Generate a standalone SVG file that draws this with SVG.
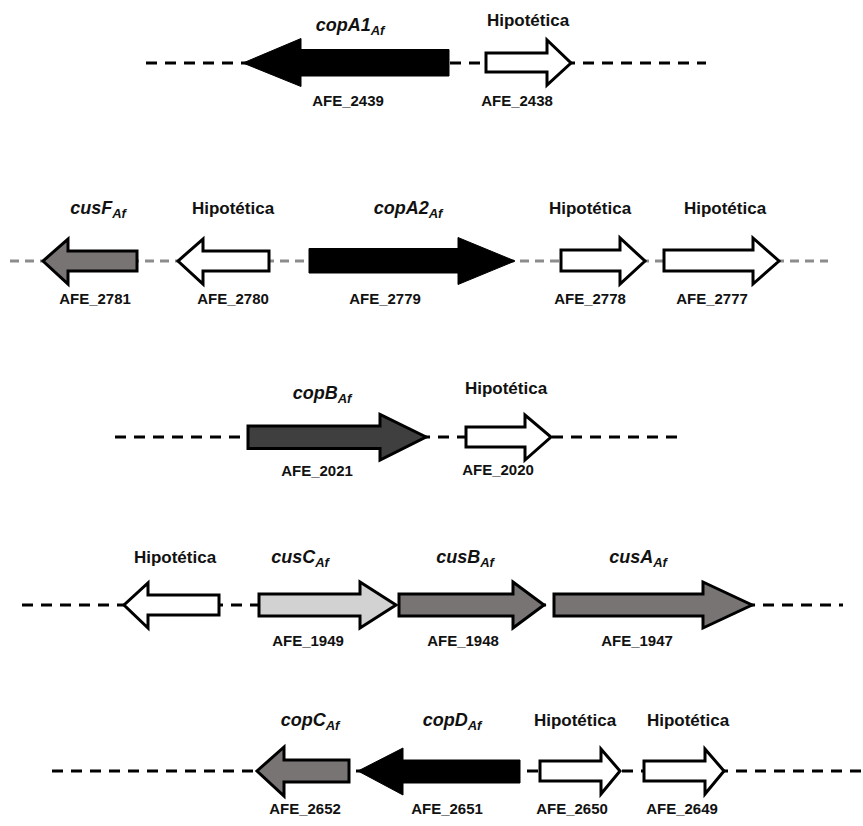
<svg xmlns="http://www.w3.org/2000/svg" width="863" height="826" viewBox="0 0 863 826">
<style>
.bb{stroke:#000;stroke-width:3;stroke-dasharray:11 8;fill:none}
.gb{stroke:#8c8c8c;stroke-width:3;stroke-dasharray:9 6;fill:none}
.ar{stroke:#000;stroke-width:3;stroke-linejoin:miter}
.w{fill:#fff}
.k{fill:#000;stroke:#000;stroke-width:1}
.g{fill:#787474}
.d{fill:#3f3f3f}
.l{fill:#d2d2d2}
text{font-family:"Liberation Sans",Arial,sans-serif;font-weight:bold;fill:#111;text-anchor:middle}
.n{font-size:18px;font-style:italic}
.s{font-size:13px}
.h{font-size:17px}
.a{font-size:15px}
</style>
<rect width="863" height="826" fill="#fff"/>
<g id="connectors">
<line class="bb" x1="146" y1="63" x2="706" y2="63"/>
<line class="gb" x1="10" y1="261" x2="828" y2="261"/>
<line class="bb" x1="115" y1="437" x2="685" y2="437"/>
<line class="bb" x1="22" y1="605" x2="843" y2="605"/>
<line class="bb" x1="52" y1="771" x2="863" y2="771"/>
</g>
<!-- Row 1 -->
<g id="copA1">
<polygon class="k" points="449,49.5 301,49.5 301,38.5 243,63 301,86.5 301,76 449,76"/>
<text class="n" x="350" y="31">copA1<tspan class="s" dy="4">Af</tspan></text>
<text class="a" x="348" y="106">AFE_2439</text>
</g>
<g id="AFE_2438">
<polygon class="ar w" points="486,53 547,53 547,40 571,63 547,85 547,72 486,72"/>
<text class="h" x="528" y="26">Hipotética</text>
<text class="a" x="517" y="106">AFE_2438</text>
</g>
<!-- Row 2 -->
<g id="cusF">
<polygon class="ar g" points="137,251 68,251 68,239 43,261 68,284 68,271 137,271"/>
<text class="n" x="98" y="214">cusF<tspan class="s" dy="4">Af</tspan></text>
<text class="a" x="95" y="304">AFE_2781</text>
</g>
<g id="AFE_2780">
<polygon class="ar w" points="269,251 203,251 203,239 178,261 203,284 203,271 269,271"/>
<text class="h" x="233" y="214">Hipotética</text>
<text class="a" x="233" y="304">AFE_2780</text>
</g>
<g id="copA2">
<polygon class="k" points="309,248.5 458,248.5 458,237.5 515,261 458,284.5 458,273 309,273"/>
<text class="n" x="408" y="214">copA2<tspan class="s" dy="4">Af</tspan></text>
<text class="a" x="385" y="304">AFE_2779</text>
</g>
<g id="AFE_2778">
<polygon class="ar w" points="561,250 620,250 620,238 645,261 620,284 620,271 561,271"/>
<text class="h" x="590" y="214">Hipotética</text>
<text class="a" x="590" y="304">AFE_2778</text>
</g>
<g id="AFE_2777">
<polygon class="ar w" points="664,250 753,250 753,238 779,261 753,284 753,271 664,271"/>
<text class="h" x="725" y="214">Hipotética</text>
<text class="a" x="712" y="304">AFE_2777</text>
</g>
<!-- Row 3 -->
<g id="copB">
<polygon class="ar d" points="248,426 380,426 380,414.5 426,437 380,460 380,448.5 248,448.5"/>
<text class="n" x="322" y="399">copB<tspan class="s" dy="4">Af</tspan></text>
<text class="a" x="317" y="476">AFE_2021</text>
</g>
<g id="AFE_2020">
<polygon class="ar w" points="466,427 525,427 525,415 551,437 525,460 525,447 466,447"/>
<text class="h" x="506" y="394">Hipotética</text>
<text class="a" x="498" y="475">AFE_2020</text>
</g>
<!-- Row 4 -->
<g id="hyp4">
<polygon class="ar w" points="219,595 148,595 148,583 124,605 148,628 148,615 219,615"/>
<text class="h" x="175" y="563">Hipotética</text>
</g>
<g id="cusC">
<polygon class="ar l" points="259,594 360,594 360,582 396,605 360,628 360,616 259,616"/>
<text class="n" x="300" y="563">cusC<tspan class="s" dy="4">Af</tspan></text>
<text class="a" x="308" y="646">AFE_1949</text>
</g>
<g id="cusB">
<polygon class="ar g" points="399,594 513,594 513,582 544,605 513,628 513,616 399,616"/>
<text class="n" x="465" y="563">cusB<tspan class="s" dy="4">Af</tspan></text>
<text class="a" x="463" y="646">AFE_1948</text>
</g>
<g id="cusA">
<polygon class="ar g" points="554,594 703,594 703,582 752,605 703,628 703,616 554,616"/>
<text class="n" x="638" y="563">cusA<tspan class="s" dy="4">Af</tspan></text>
<text class="a" x="637" y="646">AFE_1947</text>
</g>
<!-- Row 5 -->
<g id="copC">
<polygon class="ar g" points="349,760 284,760 284,747 257,771 284,796 284,782 349,782"/>
<text class="n" x="310" y="726">copC<tspan class="s" dy="4">Af</tspan></text>
<text class="a" x="305" y="814">AFE_2652</text>
</g>
<g id="copD">
<polygon class="k" points="520,760 403,760 403,748 358,771 403,795 403,783 520,783"/>
<text class="n" x="452" y="726">copD<tspan class="s" dy="4">Af</tspan></text>
<text class="a" x="447" y="814">AFE_2651</text>
</g>
<g id="AFE_2650">
<polygon class="ar w" points="540,761 601,761 601,749 620,771 601,794 601,781 540,781"/>
<text class="h" x="575" y="726">Hipotética</text>
<text class="a" x="572" y="814">AFE_2650</text>
</g>
<g id="AFE_2649">
<polygon class="ar w" points="644,761 705,761 705,749 724,771 705,794 705,781 644,781"/>
<text class="h" x="688" y="726">Hipotética</text>
<text class="a" x="682" y="814">AFE_2649</text>
</g>
</svg>
